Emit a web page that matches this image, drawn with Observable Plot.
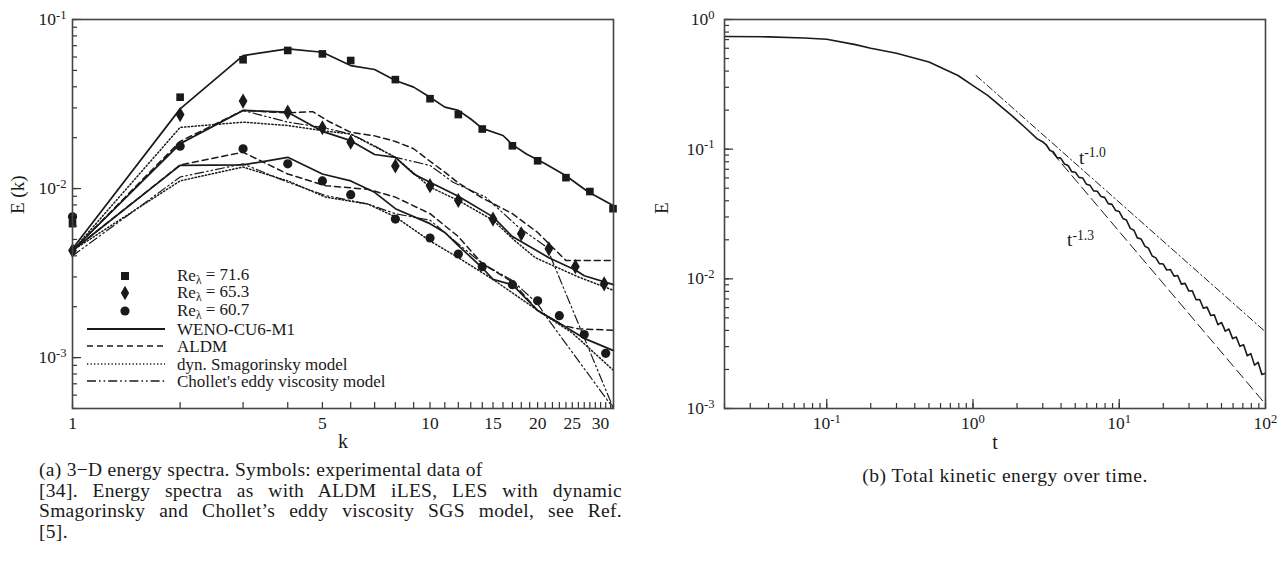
<!DOCTYPE html>
<html><head><meta charset="utf-8">
<script src="https://cdn.jsdelivr.net/npm/d3@7"></script>
<script src="https://cdn.jsdelivr.net/npm/@observablehq/plot@0.6"></script>
<style>
body{margin:0;background:#fff;width:1286px;height:565px;position:relative;overflow:hidden;font-family:"Liberation Serif",serif;color:#1a1a1a}
#left{position:absolute;left:0;top:0}
#right{position:absolute;left:643px;top:0}
#legend{position:absolute;left:0;top:0;pointer-events:none}
.cap{position:absolute;font-size:19.5px;line-height:20.7px;white-space:nowrap;letter-spacing:0.3px}
.j{text-align:justify;text-align-last:justify;width:583px;white-space:normal}
#capA{left:39px;top:460px}
#capB{left:705px;width:600px;top:466px;text-align:center;letter-spacing:0.55px}
</style></head><body>
<div id="left"></div><div id="right"></div>
<div class="cap" id="capA">
<div>(a) 3−D energy spectra. Symbols: experimental data of</div>
<div class="j">[34]. Energy spectra as with ALDM iLES, LES with dynamic</div>
<div class="j">Smagorinsky and Chollet’s eddy viscosity SGS model, see Ref.</div>
<div>[5].</div>
</div>
<div class="cap" id="capB">(b) Total kinetic energy over time.</div>
<script>
// ---------- (a) experimental data ----------
const k716 = [1,2,3,4,5,6,8,10,12,14,17,20,24,28,32.5];
const E716 = [0.0062,0.0347,0.0578,0.0656,0.0626,0.0572,0.0441,0.034,0.0274,0.0225,0.0179,0.0146,0.0116,0.0096,0.0076];
const k653 = [1,2,3,4,5,6,8,10,12,15,18,21.5,25.5,30.7];
const E653 = [0.0043,0.0274,0.0329,0.0283,0.0229,0.0188,0.0136,0.0104,0.0085,0.0066,0.0054,0.0044,0.00345,0.00273];
const k607 = [1,2,3,4,5,6,8,10,12,14,17,20,23,27,31];
const E607 = [0.0068,0.0178,0.0172,0.014,0.0111,0.0092,0.0066,0.0051,0.0041,0.00345,0.0027,0.00217,0.00177,0.00137,0.00106];
// ---------- (a) simulations [k, E] ----------
const weno716 = [[1,0.0044],[2,0.0296],[3,0.0612],[4,0.0671],[5,0.064],[6,0.0534],[7,0.0506],[8,0.0436],[9,0.0398],[10,0.0347],[11,0.0303],[12,0.029],[13,0.0258],[14,0.0227],[16,0.0206],[17,0.0182],[18.6,0.016],[21,0.014],[24,0.0119],[27.6,0.0096],[32.6,0.0079]];
const weno653 = [[1,0.0043],[2,0.0184],[3,0.029],[4,0.0283],[5,0.0218],[6,0.0192],[7,0.0159],[8,0.0153],[9,0.0122],[10,0.0109],[12,0.009],[15,0.0068],[17,0.0052],[21.5,0.0039],[25.5,0.0033],[27,0.00305],[32.6,0.0027]];
const aldm653 = [[1,0.0043],[2,0.019],[3,0.029],[4,0.028],[4.7,0.0285],[5.2,0.025],[6,0.0215],[7,0.0205],[8,0.019],[9,0.0172],[10,0.0145],[11,0.0125],[12,0.0108],[14,0.0088],[17,0.0071],[20,0.0055],[22,0.0045],[24,0.00375],[32.6,0.00375]];
const smag653 = [[1,0.0043],[2,0.023],[3,0.0247],[4,0.0236],[5,0.022],[6,0.021],[8,0.0153],[10,0.0102],[12,0.0085],[15,0.0065],[17.3,0.0049],[19.7,0.0039],[26,0.003],[32.6,0.0025]];
const chol653 = [[1,0.0043],[2,0.0185],[3,0.029],[4,0.0247],[5,0.023],[6,0.021],[6.7,0.0188],[8,0.0153],[10,0.0137],[11.6,0.0109],[14.3,0.0089],[17.7,0.0059],[21.2,0.0045],[32.6,0.0005]];
const weno607 = [[1,0.0043],[2,0.0137],[3,0.0138],[4,0.0153],[5,0.0122],[6,0.0111],[7,0.0095],[8,0.0076],[10,0.0062],[11,0.0055],[12,0.0046],[14,0.0034],[15,0.0029],[17,0.0027],[20,0.0019],[23,0.0016],[27,0.0013],[32.6,0.0011]];
const aldm607 = [[1,0.0043],[2,0.0138],[3,0.0164],[4,0.0122],[5.1,0.0104],[6.7,0.0099],[8,0.0089],[10,0.0071],[12,0.0052],[14,0.0036],[17,0.0028],[20,0.0019],[23.5,0.00155],[26,0.00148],[32.6,0.00145]];
const smag607 = [[1,0.0043],[2,0.0111],[3,0.0134],[4,0.0111],[5.1,0.0089],[6.7,0.0081],[8,0.0068],[10,0.0049],[12,0.0039],[15,0.0029],[20,0.0019],[25,0.0014],[32.6,0.00084]];
const chol607 = [[1,0.004],[2,0.0117],[3,0.014],[4,0.0109],[5.1,0.0091],[6.7,0.0081],[8,0.0071],[10,0.0065],[12,0.0047],[14,0.0036],[17,0.00286],[20,0.00208],[21.2,0.00173],[32.6,0.0005]];
const kTickLabels = [1,5,10,15,20,25,30];
const eTickLabelsA = [0.001,0.01,0.1];

// ---------- (b) total kinetic energy ----------
const tE = [0.02,0.04,0.07,0.1,0.157,0.2,0.3,0.5,0.79,1.0,1.26,1.86,2.3,2.75,
 2.99,3.16,3.35,3.55,3.76,3.98,4.22,4.47,4.73,5.01,5.31,5.62,5.96,6.31,6.68,7.08,7.5,7.94,8.41,8.91,9.44,
 10,10.6,11.2,11.9,12.6,13.3,14.1,15,15.8,16.8,17.8,18.8,20,21.1,22.4,23.7,25.1,26.6,28.2,29.9,31.6,33.5,
 35.5,37.6,39.8,42.2,44.7,47.3,50.1,53.1,56.2,59.6,63.1,66.8,70.8,75,79.4,84.1,89.1,94.4,100];
const EE = [0.74,0.735,0.72,0.705,0.64,0.60,0.55,0.47,0.37,0.309,0.26,0.18,0.145,0.12,
 0.114,0.1086,0.098,0.0951,0.0861,0.0853,0.0769,0.0748,0.0671,0.0664,0.0606,0.06,0.0537,0.0526,0.0477,0.0473,0.0432,0.0425,0.038,0.0375,0.0337,
 0.033,0.0292,0.0284,0.0245,0.0237,0.0207,0.0203,0.0178,0.0173,0.015,0.0145,0.0131,0.013,0.0117,0.0118,0.0105,0.0106,0.0091,0.00922,0.00805,0.00807,0.00689,
 0.00693,0.00593,0.00605,0.00522,0.00527,0.00443,0.0046,0.00395,0.0041,0.00346,0.00356,0.00302,0.0031,0.00255,0.00265,0.00216,0.00227,0.00183,0.00187];
const fitT1 = [[1.05,0.37],[100,0.0039]];
const fitT13 = [[3.0,0.115],[100,0.00108]];
const annotB = [{t:5.3,E:0.086,label:"t^-1.0"},{t:4.4,E:0.0198,label:"t^-1.3"}];
const tTickLabels = [0.1,1,10,100];
const eTickLabelsB = [0.001,0.01,0.1,1];

const FONT = '"Liberation Serif", "Times New Roman", serif';
const INK = "#1a1a1a";
const DASH = "6,4", DOT = "1.3,2.2", DDOT = "9,3,1.6,3,1.6,3";

function minorTicks(lo, hi) {
  const out = [];
  for (let e = -4; e <= 3; e++) for (let m = 1; m <= 9; m++) {
    const v = m * Math.pow(10, e);
    if (v >= lo * 0.9999 && v <= hi * 1.0001) out.push(v);
  }
  return out;
}
const pow10 = d => "10^" + Math.round(Math.log10(d));

function supify(svg) {
  d3.select(svg).selectAll("text").each(function() {
    const el = this; const txt = el.textContent;
    const m = txt.match(/^([^\^]*)\^(.*)$/);
    if (!m) return;
    while (el.firstChild) el.removeChild(el.firstChild);
    const ns = "http://www.w3.org/2000/svg";
    const a = document.createElementNS(ns, "tspan"); a.textContent = m[1]; el.appendChild(a);
    const b = document.createElementNS(ns, "tspan"); b.textContent = m[2];
    b.setAttribute("dy", "-0.5em"); b.setAttribute("font-size", "0.72em"); el.appendChild(b);
  });
}

// ---------- left plot ----------
const WL = 640, HL = 460, mL = {l:72, r:27, t:19, b:52};
const fwL = WL - mL.l - mL.r, fhL = HL - mL.t - mL.b;
const kAll = d3.range(1, 33);
const line = (data, dash, sw=1.5) => Plot.line(data, {x: d => d[0], y: d => d[1], stroke: INK, strokeWidth: sw, strokeDasharray: dash});
const left = Plot.plot({
  width: WL, height: HL, marginLeft: mL.l, marginRight: mL.r, marginTop: mL.t, marginBottom: mL.b,
  style: {fontFamily: FONT, fontSize: "17px", color: INK, background: "transparent"},
  x: {type: "log", domain: [1, 32.6]},
  y: {type: "log", domain: [5e-4, 0.1]},
  marks: [
    line(weno716, null, 1.7),
    line(weno653, null, 1.7), line(aldm653, DASH), line(smag653, DOT), line(chol653, DDOT, 1.2),
    line(weno607, null, 1.7), line(aldm607, DASH), line(smag607, DOT), line(chol607, DDOT, 1.2),
    Plot.dot(k716.map((k,i) => [k, E716[i]]), {x: d=>d[0], y: d=>d[1], symbol: "square", r: 4.3, fill: INK}),
    Plot.dot(k653.map((k,i) => [k, E653[i]]), {x: d=>d[0], y: d=>d[1], symbol: "diamond", r: 4.6, fill: INK}),
    Plot.dot(k607.map((k,i) => [k, E607[i]]), {x: d=>d[0], y: d=>d[1], symbol: "circle", r: 4.6, fill: INK}),
    Plot.tickX(kAll, {x: d => d, insetTop: fhL - 6, stroke: "#333", strokeWidth: 1.2}),
    Plot.tickY(minorTicks(5e-4, 0.1), {y: d => d, insetRight: fwL - 5, stroke: "#333", strokeWidth: 1.2}),
    Plot.tickY(eTickLabelsA, {y: d => d, insetRight: fwL - 9, stroke: "#333", strokeWidth: 1.2}),
    Plot.frame({stroke: "#444", strokeWidth: 1.6}),
    Plot.axisX({ticks: kTickLabels, tickSize: 0, tickPadding: 8, tickFormat: d => String(d), label: null, fontSize: 17.5}),
    Plot.axisY({ticks: eTickLabelsA, tickSize: 0, tickPadding: 6, tickFormat: pow10, label: null, fontSize: 17.5}),
    Plot.text(["k"], {frameAnchor: "bottom", dy: 39, fontSize: 20}),
    Plot.text(["E (k)"], {frameAnchor: "left", dx: -55, rotate: -90, fontSize: 19})
  ]
});
document.getElementById("left").append(left);
supify(left);

// legend for (a)
const lg = d3.select("body").append("svg").attr("id", "legend").attr("width", WL).attr("height", HL)
  .style("font-family", FONT).style("font-size", "17px").attr("fill", INK);
const symRows = [
  {sym: d3.symbolSquare, size: 64, label: "71.6", y: 276},
  {sym: d3.symbolDiamond, size: 60, label: "65.3", y: 293},
  {sym: d3.symbolCircle, size: 66, label: "60.7", y: 311}
];
symRows.forEach(r => {
  lg.append("path").attr("d", d3.symbol(r.sym, r.size)()).attr("transform", `translate(125,${r.y})`).attr("fill", INK);
  const t = lg.append("text").attr("x", 177).attr("y", r.y + 5);
  t.append("tspan").text("Re");
  t.append("tspan").attr("dy", "0.22em").attr("font-size", "0.68em").text("λ");
  t.append("tspan").attr("dy", "-0.22em").text(" = " + r.label);
});
const lineRows = [
  {dash: null, sw: 1.8, label: "WENO-CU6-M1", y: 329},
  {dash: DASH, sw: 1.5, label: "ALDM", y: 346},
  {dash: DOT, sw: 1.5, label: "dyn. Smagorinsky model", y: 364},
  {dash: DDOT, sw: 1.3, label: "Chollet's eddy viscosity model", y: 381}
];
lineRows.forEach(r => {
  lg.append("line").attr("x1", 87).attr("x2", 165).attr("y1", r.y).attr("y2", r.y)
    .attr("stroke", INK).attr("stroke-width", r.sw).attr("stroke-dasharray", r.dash);
  lg.append("text").attr("x", 177).attr("y", r.y + 6).text(r.label);
});

// ---------- right plot ----------
const WR = 643, HR = 460, mR = {l:81, r:21, t:19, b:52};
const fwR = WR - mR.l - mR.r, fhR = HR - mR.t - mR.b;
const right = Plot.plot({
  width: WR, height: HR, marginLeft: mR.l, marginRight: mR.r, marginTop: mR.t, marginBottom: mR.b,
  style: {fontFamily: FONT, fontSize: "17px", color: INK, background: "transparent"},
  x: {type: "log", domain: [0.02, 100]},
  y: {type: "log", domain: [0.001, 1]},
  marks: [
    Plot.line(fitT1, {x: d=>d[0], y: d=>d[1], stroke: INK, strokeWidth: 1, strokeDasharray: "7,3,1.5,3"}),
    Plot.line(fitT13, {x: d=>d[0], y: d=>d[1], stroke: INK, strokeWidth: 1, strokeDasharray: "10,5"}),
    Plot.line(tE.map((t,i) => [t, EE[i]]), {x: d=>d[0], y: d=>d[1], stroke: INK, strokeWidth: 1.6}),
    Plot.text(annotB, {x: "t", y: "E", text: "label", textAnchor: "start", fontSize: 19}),
    Plot.tickX(minorTicks(0.02, 100), {x: d => d, insetTop: fhR - 5, stroke: "#333", strokeWidth: 1.2}),
    Plot.tickX(tTickLabels, {x: d => d, insetTop: fhR - 9, stroke: "#333", strokeWidth: 1.2}),
    Plot.tickY(minorTicks(0.001, 1), {y: d => d, insetRight: fwR - 5, stroke: "#333", strokeWidth: 1.2}),
    Plot.tickY(eTickLabelsB, {y: d => d, insetRight: fwR - 9, stroke: "#333", strokeWidth: 1.2}),
    Plot.frame({stroke: "#444", strokeWidth: 1.6}),
    Plot.axisX({ticks: tTickLabels, tickSize: 0, tickPadding: 8, tickFormat: pow10, label: null, fontSize: 17.5}),
    Plot.axisY({ticks: eTickLabelsB, tickSize: 0, tickPadding: 10, tickFormat: pow10, label: null, fontSize: 17.5}),
    Plot.text(["t"], {frameAnchor: "bottom", dy: 40, fontSize: 20}),
    Plot.text(["E"], {frameAnchor: "left", dx: -63, rotate: -90, fontSize: 19})
  ]
});
document.getElementById("right").append(right);
supify(right);
</script>
</body></html>
